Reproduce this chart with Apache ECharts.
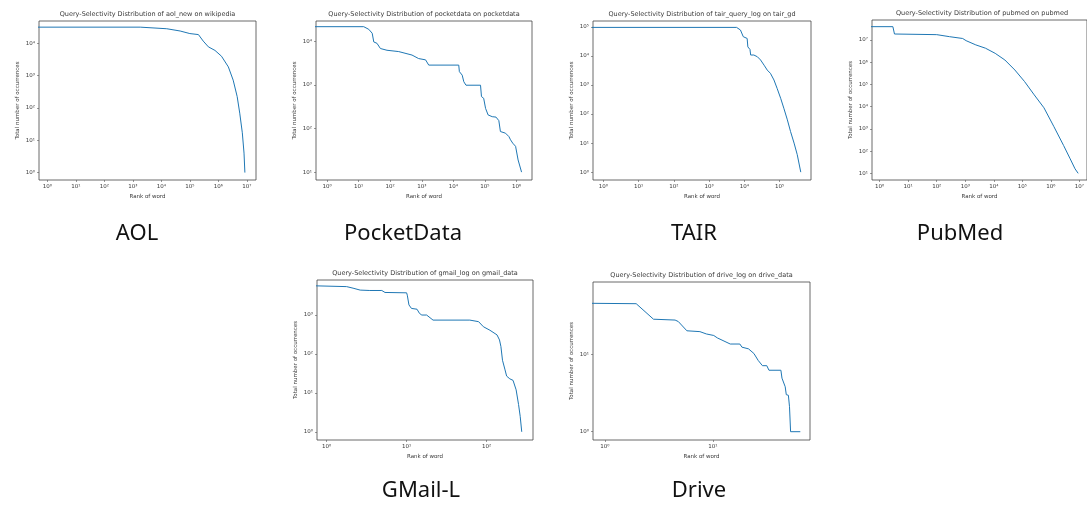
<!DOCTYPE html>
<html>
<head>
<meta charset="utf-8">
<script src="https://cdn.jsdelivr.net/npm/echarts@6/dist/echarts.min.js"></script>
<style>
html,body{margin:0;padding:0;background:#fff;}
#chart{width:1087px;height:507px;}
</style>
</head>
<body>
<div id="chart"></div>
<script>
// ---------- data ----------
const panelTitles = [
  'Query-Selectivity Distribution of aol_new on wikipedia',
  'Query-Selectivity Distribution of pocketdata on pocketdata',
  'Query-Selectivity Distribution of tair_query_log on tair_gd',
  'Query-Selectivity Distribution of pubmed on pubmed',
  'Query-Selectivity Distribution of gmail_log on gmail_data',
  'Query-Selectivity Distribution of drive_log on drive_data'
];
const captions = ['AOL', 'PocketData', 'TAIR', 'PubMed', 'GMail-L', 'Drive'];
const xAxisName = 'Rank of word';
const yAxisName = 'Total number of occurrences';

const aolRank  = [0.3, 1820, 1820, 15500, 45700, 100000, 200000, 295000, 447000, 759000, 1290000, 2240000, 3310000, 4570000, 5620000, 6920000, 7940000, 8510000];
const aolCount = [31600, 31600, 28200, 28200, 24000, 20000, 18600, 11700, 7760, 6030, 3980, 1860, 724, 224, 69, 17, 4, 1];

const pocketRank  = [0.3, 14.5, 20.9, 26.9, 30.2, 38, 49, 55, 79, 186, 490, 794, 1318, 1660, 14800, 15500, 19050, 21380, 25100, 72400, 77600, 91200, 104700, 125900, 169800, 223900, 275400, 309000, 446700, 575400, 645700, 758600, 933300, 1122000, 1445000];
const pocketCount = [21380, 21380, 18620, 15140, 9550, 8910, 6760, 6170, 6170, 5750, 4790, 3980, 3720, 2820, 2820, 2000, 1660, 1175, 977, 977, 537, 490, 288, 204, 186, 182, 151, 85, 78, 65, 55, 46, 39, 19, 10];

const tairRank  = [0.3, 6030, 7760, 8510, 9330, 12020, 12590, 14450, 15140, 18620, 23440, 28840, 36310, 44670, 54950, 69180, 85110, 107150, 131830, 165960, 204170, 257040, 316230, 398110];
const tairCount = [95500, 95500, 77600, 67600, 45700, 39800, 20400, 16600, 10700, 10700, 9330, 7240, 4790, 3240, 2510, 1480, 759, 347, 158, 63, 25, 10, 4, 1];

const pubmedRank  = [0.3, 2.9, 3.3, 100, 282, 813, 1072, 2344, 5129, 11220, 24550, 54950, 120230, 263030, 575440, 1288000, 2818000, 4786000, 7079000, 9120000];
const pubmedCount = [39800000, 39800000, 18600000, 17400000, 14100000, 11700000, 9330000, 6030000, 4270000, 2510000, 1259000, 447000, 135000, 33900, 8910, 1259, 178, 45, 16, 10];

const gmailRank  = [0.3, 1.78, 2.14, 2.63, 3.47, 4.90, 5.37, 10, 10.2, 10.7, 11.5, 13.5, 14.5, 15.5, 17.8, 21.4, 61.7, 79.4, 91.2, 110, 135, 145, 151, 158, 170, 178, 195, 214, 234, 251, 263, 275];
const gmailCount = [5890, 5370, 4900, 4370, 4270, 4270, 3800, 3720, 3240, 1820, 1480, 1410, 1100, 1000, 1000, 741, 741, 676, 501, 407, 309, 229, 155, 69, 39, 27, 23, 21, 12, 5, 2.5, 1];

const driveRank  = [0.3, 1.95, 2.82, 4.47, 4.79, 5.75, 7.59, 8.71, 10.2, 11.0, 14.5, 17.8, 18.6, 21.4, 24.0, 26.3, 28.8, 31.6, 33.1, 42.7, 43.7, 46.8, 47.9, 50.1, 51.3, 52.5, 64.6];
const driveCount = [45.7, 44.7, 28.2, 27.5, 26.3, 20.0, 19.5, 18.2, 17.4, 16.2, 13.5, 13.5, 12.3, 11.7, 10.2, 8.3, 7.1, 7.1, 6.2, 6.2, 4.9, 3.8, 3.0, 2.95, 2.1, 1, 1];

// tick labels (axis values where a "10^n" label is drawn)
const aolXTicks    = [1, 10, 100, 1e3, 1e4, 1e5, 1e6, 1e7];
const aolYTicks    = [1, 10, 100, 1e3, 1e4];
const pocketXTicks = [1, 10, 100, 1e3, 1e4, 1e5, 1e6];
const pocketYTicks = [10, 100, 1e3, 1e4];
const tairXTicks   = [1, 10, 100, 1e3, 1e4, 1e5];
const tairYTicks   = [1, 10, 100, 1e3, 1e4, 1e5];
const pubmedXTicks = [1, 10, 100, 1e3, 1e4, 1e5, 1e6, 1e7];
const pubmedYTicks = [10, 100, 1e3, 1e4, 1e5, 1e6, 1e7];
const gmailXTicks  = [1, 10, 100];
const gmailYTicks  = [1, 10, 100, 1e3];
const driveXTicks  = [1, 10];
const driveYTicks  = [1, 10];

// ---------- layout (pixels, log10 view ranges) ----------
const layout = [
  {left: 39,  top: 21,  width: 217, height: 159, xr: [-0.29, 7.32], yr: [-0.23, 4.69], cap: [137, 234]},
  {left: 316, top: 21,  width: 216, height: 159, xr: [-0.35, 6.49], yr: [0.82, 4.46],  cap: [403, 234]},
  {left: 593, top: 21,  width: 218, height: 159, xr: [-0.29, 5.89], yr: [-0.27, 5.2],  cap: [694, 234]},
  {left: 872, top: 20,  width: 220, height: 160, xr: [-0.27, 7.27], yr: [0.7, 7.9],    cap: [960, 234]},
  {left: 317, top: 280, width: 216, height: 160, xr: [-0.12, 2.58], yr: [-0.21, 3.9],  cap: [421, 491]},
  {left: 593, top: 282, width: 217, height: 158, xr: [-0.11, 1.90], yr: [-0.107, 1.93], cap: [699, 491]}
];

const ranks  = [aolRank, pocketRank, tairRank, pubmedRank, gmailRank, driveRank];
const counts = [aolCount, pocketCount, tairCount, pubmedCount, gmailCount, driveCount];
const xTicks = [aolXTicks, pocketXTicks, tairXTicks, pubmedXTicks, gmailXTicks, driveXTicks];
const yTicks = [aolYTicks, pocketYTicks, tairYTicks, pubmedYTicks, gmailYTicks, driveYTicks];

const SUP = ['\u2070','\u00b9','\u00b2','\u00b3','\u2074','\u2075','\u2076','\u2077','\u2078','\u2079'];
function pow10Label(v) {
  const e = Math.round(Math.log10(v));
  return '10' + String(e).split('').map(d => SUP[+d]).join('');
}

const FONT = 'DejaVu Sans';
const TXT = '#3a3a3a';
const grids = [], xAxes = [], yAxes = [], series = [], graphics = [];

layout.forEach((L, i) => {
  grids.push({
    left: L.left, top: L.top, width: L.width, height: L.height,
    show: true, borderColor: '#444', borderWidth: 0.8, containLabel: false
  });
  xAxes.push({
    type: 'log', logBase: 10, gridIndex: i,
    min: Math.pow(10, L.xr[0]), max: Math.pow(10, L.xr[1]),
    axisLine: {show: false},
    splitLine: {show: false},
    axisTick: {show: true, length: 2, customValues: xTicks[i], lineStyle: {color: '#555', width: 0.6}},
    axisLabel: {customValues: xTicks[i], formatter: pow10Label, fontSize: 5.5, color: TXT, fontFamily: FONT, margin: 4},
    name: xAxisName, nameLocation: 'middle', nameGap: 14,
    nameTextStyle: {fontSize: 5.5, color: TXT, fontFamily: FONT}
  });
  yAxes.push({
    type: 'log', logBase: 10, gridIndex: i,
    min: Math.pow(10, L.yr[0]), max: Math.pow(10, L.yr[1]),
    axisLine: {show: false},
    splitLine: {show: false},
    axisTick: {show: true, length: 2, customValues: yTicks[i], lineStyle: {color: '#555', width: 0.6}},
    axisLabel: {customValues: yTicks[i], formatter: pow10Label, fontSize: 5.5, color: TXT, fontFamily: FONT, margin: 4},
    name: yAxisName, nameLocation: 'middle', nameGap: 18,
    nameTextStyle: {fontSize: 5.5, color: TXT, fontFamily: FONT}
  });
  series.push({
    type: 'line', xAxisIndex: i, yAxisIndex: i,
    data: ranks[i].map((r, k) => [r, counts[i][k]]),
    showSymbol: false, symbol: 'none', clip: true,
    lineStyle: {color: '#1f77b4', width: 1},
    animation: false
  });
  graphics.push({
    type: 'text', x: L.left + L.width / 2, y: L.top - 7,
    style: {text: panelTitles[i], fontSize: 6.5, fontFamily: FONT, fill: TXT,
            align: 'center', verticalAlign: 'middle', textAlign: 'center', textVerticalAlign: 'middle'}
  });
  graphics.push({
    type: 'text', x: L.cap[0], y: L.cap[1],
    style: {text: captions[i], fontSize: 22, fontFamily: 'Noto Sans', fill: '#111',
            align: 'center', verticalAlign: 'middle', textAlign: 'center', textVerticalAlign: 'middle'}
  });
});

const chart = echarts.init(document.getElementById('chart'), null, {renderer: 'canvas'});
chart.setOption({
  backgroundColor: '#ffffff',
  animation: false,
  grid: grids,
  xAxis: xAxes,
  yAxis: yAxes,
  series: series,
  graphic: graphics
});
</script>
</body>
</html>
